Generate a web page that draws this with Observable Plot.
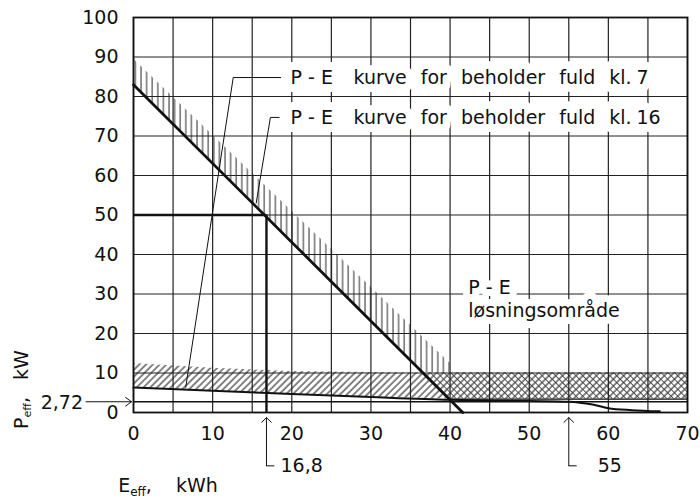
<!DOCTYPE html>
<html>
<head>
<meta charset="utf-8">
<script src="https://cdn.jsdelivr.net/npm/d3@7"></script>
<script src="https://cdn.jsdelivr.net/npm/@observablehq/plot@0.6"></script>
<style>
  html, body { margin: 0; padding: 0; background: #fff; }
  #chart svg { display: block; }
</style>
</head>
<body>
<div id="chart"></div>
<script>
// ---- tick values ----
const xTicks = [0, 10, 20, 30, 40, 50, 60, 70];
const yTicks = [0, 10, 20, 30, 40, 50, 60, 70, 80, 90, 100];
const xGrid = [0, 5, 10, 15, 20, 25, 30, 35, 40, 45, 50, 55, 60, 65, 70];
const yGrid = yTicks;

// ---- P-E curve, tank full at 16 o'clock (straight line) ----
const curve16 = [ {E: 0, P: 83}, {E: 41.6, P: 0} ];
// vertical hatching above that curve
const vertHatch = [ {E: 0, lo: 83, hi: 89.5}, {E: 40, lo: 3.2, hi: 12.5} ];

// ---- P-E curve, tank full at 7 o'clock ----
const curve7 = [
  {E: 0, P: 6.3}, {E: 10, P: 5.5}, {E: 20, P: 4.7}, {E: 30, P: 3.9},
  {E: 40, P: 3.2}, {E: 50, P: 2.9}, {E: 55, P: 2.72}, {E: 58, P: 2.0},
  {E: 60, P: 1.1}, {E: 63, P: 0.6}, {E: 66.5, P: 0.3}
];
// diagonal-hatched band
const band = [
  {E: 0, lo: 6.3, hi: 12.4}, {E: 10, lo: 5.5, hi: 11.2}, {E: 20, lo: 4.7, hi: 10.4},
  {E: 30, lo: 3.9, hi: 10.1}, {E: 40, lo: 3.4, hi: 10}, {E: 70, lo: 3.4, hi: 10}
];
// cross-hatched solution region (right of the straight line)
const solution = [ {E: 36.75, lo: 10, hi: 10}, {E: 40, lo: 3.4, hi: 10}, {E: 70, lo: 3.4, hi: 10} ];

// ---- marked values ----
const P_min = 2.72;
const P_design = 50;
const E_design = 16.8;
const calloutE = [16.8, 55];
const calloutText = ["16,8", "55"];
const callouts = calloutE.map((E, i) => ({E, label: calloutText[i]}));

// ---- leader lines to the curve labels ----
const leader7 = [ {E: 18.6, P: 84.8}, {E: 12.6, P: 84.8}, {E: 6.6, P: 6.4} ];
const leader16 = [ {E: 18.4, P: 74.7}, {E: 17.3, P: 74.7}, {E: 15.5, P: 53} ];

const labelPE = ["P - E", "P - E"];
const labelRest = ["kurve for beholder fuld kl.\u20057", "kurve for beholder fuld kl.\u200516"];
const labelRows = [
  {E: 19.85, E2: 27.8, P: 84.8, a: labelPE[0], b: labelRest[0]},
  {E: 19.85, E2: 27.8, P: 74.7, a: labelPE[1], b: labelRest[1]}
];
const regionLabel = [ {E: 42.3, P: 31.6, t: "P - E"}, {E: 42.3, P: 25.8, t: "løsningsområde"} ];

const ink = "#111";

const chart = Plot.plot({
  width: 700,
  height: 499,
  marginLeft: 133,
  marginRight: 13,
  marginTop: 17,
  marginBottom: 87,
  style: { fontFamily: "'DejaVu Sans', sans-serif", fontSize: "19px", background: "#fff", color: ink },
  x: { domain: [0, 70], ticks: xTicks, tickSize: 0, tickPadding: 14, label: null },
  y: { domain: [0, 100], ticks: yTicks, tickSize: 0, tickPadding: 15, label: null },
  marks: [
    Plot.areaY(vertHatch, {x: "E", y1: "lo", y2: "hi", fill: "url(#vh)"}),
    Plot.areaY(band, {x: "E", y1: "lo", y2: "hi", fill: "url(#dh)"}),
    Plot.areaY(solution, {x: "E", y1: "lo", y2: "hi", fill: "url(#ch)"}),
    Plot.line(band.filter(d => d.E >= 40), {x: "E", y: "lo", stroke: ink, strokeWidth: 1.2}),
    Plot.ruleX(xGrid, {y1: () => 0, y2: () => 100, stroke: "#222", strokeWidth: 1.2}),
    Plot.ruleY(yGrid, {x1: () => 0, x2: () => 70, stroke: "#222", strokeWidth: 1.2}),
    Plot.frame({stroke: ink, strokeWidth: 1.8}),
    Plot.ruleY([P_min], {x1: () => 0, x2: () => 70, stroke: ink, strokeWidth: 1.5}),
    Plot.line(curve7, {x: "E", y: "P", stroke: ink, strokeWidth: 2, curve: "monotone-x"}),
    Plot.ruleX([E_design], {y1: () => 0, y2: () => P_design, stroke: ink, strokeWidth: 2.4}),
    Plot.ruleY([P_design], {x1: () => 0, x2: () => E_design, stroke: ink, strokeWidth: 2.4}),
    Plot.line(curve16, {x: "E", y: "P", stroke: ink, strokeWidth: 2.8}),
    Plot.line(leader7, {x: "E", y: "P", stroke: ink, strokeWidth: 1}),
    Plot.line(leader16, {x: "E", y: "P", stroke: ink, strokeWidth: 1}),
    Plot.text(labelRows, {x: "E", y: "P", text: "a", textAnchor: "start", fill: ink, stroke: "white", strokeWidth: 16}),
    Plot.text(labelRows, {x: "E2", y: "P", text: "b", textAnchor: "start", fill: ink, stroke: "white", strokeWidth: 16}),
    Plot.text(regionLabel, {x: "E", y: "P", text: "t", textAnchor: "start", fill: ink, stroke: "white", strokeWidth: 14}),
    // 2,72 arrow at the left
    Plot.arrow([P_min], {x1: () => -6.0, x2: () => -0.25, y1: d => d, y2: d => d, stroke: ink, strokeWidth: 1, headAngle: 72, headLength: 11}),
    Plot.text([P_min], {x: () => -6.0, y: d => d, text: () => "2,72", textAnchor: "end", dx: -3, dy: 1, fill: ink}),
    // callouts under the x axis
    Plot.arrow(callouts, {x1: "E", x2: "E", y1: () => -13.5, y2: () => -1.3, stroke: ink, strokeWidth: 1, headAngle: 92, headLength: 10}),
    Plot.link(callouts, {x1: "E", x2: d => d.E + 1, y1: () => -13.5, y2: () => -13.5, stroke: ink, strokeWidth: 1}),
    Plot.text(callouts.slice(0, 1), {x: "E", y: () => -13.5, text: "label", textAnchor: "start", dx: 14, fill: ink}),
    Plot.text(callouts.slice(1), {x: "E", y: () => -13.5, text: "label", textAnchor: "start", dx: 29, fill: ink})
  ]
});

// hatch patterns
const svg = d3.select(chart.tagName === "svg" ? chart : chart.querySelector("svg"));
const defs = svg.insert("defs", ":first-child");
const vh = defs.append("pattern").attr("id", "vh").attr("patternUnits", "userSpaceOnUse")
  .attr("width", 5.6).attr("height", 8);
vh.append("line").attr("x1", 1).attr("x2", 1).attr("y1", 0).attr("y2", 8)
  .attr("stroke", "#3a3a3a").attr("stroke-width", 1.1);
const dh = defs.append("pattern").attr("id", "dh").attr("patternUnits", "userSpaceOnUse")
  .attr("width", 4.8).attr("height", 4.8).attr("patternTransform", "rotate(45)");
dh.append("rect").attr("width", 4.8).attr("height", 4.8).attr("fill", "white");
dh.append("line").attr("x1", 1).attr("x2", 1).attr("y1", 0).attr("y2", 4.8)
  .attr("stroke", "#222").attr("stroke-width", 1.1);
const ch = defs.append("pattern").attr("id", "ch").attr("patternUnits", "userSpaceOnUse")
  .attr("width", 4.8).attr("height", 4.8).attr("patternTransform", "rotate(45)");
ch.append("rect").attr("width", 4.8).attr("height", 4.8).attr("fill", "white");
ch.append("line").attr("x1", 1).attr("x2", 1).attr("y1", 0).attr("y2", 4.8)
  .attr("stroke", "#222").attr("stroke-width", 1.1);
ch.append("line").attr("x1", 0).attr("x2", 4.8).attr("y1", 2.4).attr("y2", 2.4)
  .attr("stroke", "#444").attr("stroke-width", 0.9);

// wider spacing between the words of the curve labels
svg.selectAll("text").filter(function () { return this.textContent.startsWith("kurve"); })
  .style("word-spacing", "8px");

// axis titles with subscripts
const xs = chart.scale("x"), ys = chart.scale("y");
const x0 = xs.apply(0), y0 = ys.apply(0);
const yt = svg.append("text").attr("fill", ink)
  .attr("transform", `translate(${x0 - 105},${y0 + 1}) rotate(-90)`);
yt.append("tspan").text("P");
yt.append("tspan").attr("font-size", 11).attr("dy", 3).text("eff");
yt.append("tspan").attr("dy", -3).text(",");
yt.append("tspan").attr("x", 48).text("kW");

const xt = svg.append("text").attr("fill", ink)
  .attr("transform", `translate(${x0 + 2},${y0 + 80})`);
xt.append("tspan").text("E");
xt.append("tspan").attr("font-size", 12).attr("dy", 4).text("eff");
xt.append("tspan").attr("dy", -4).text(",");
xt.append("tspan").attr("x", 62).text("kWh");

document.getElementById("chart").appendChild(chart);
</script>
</body>
</html>
